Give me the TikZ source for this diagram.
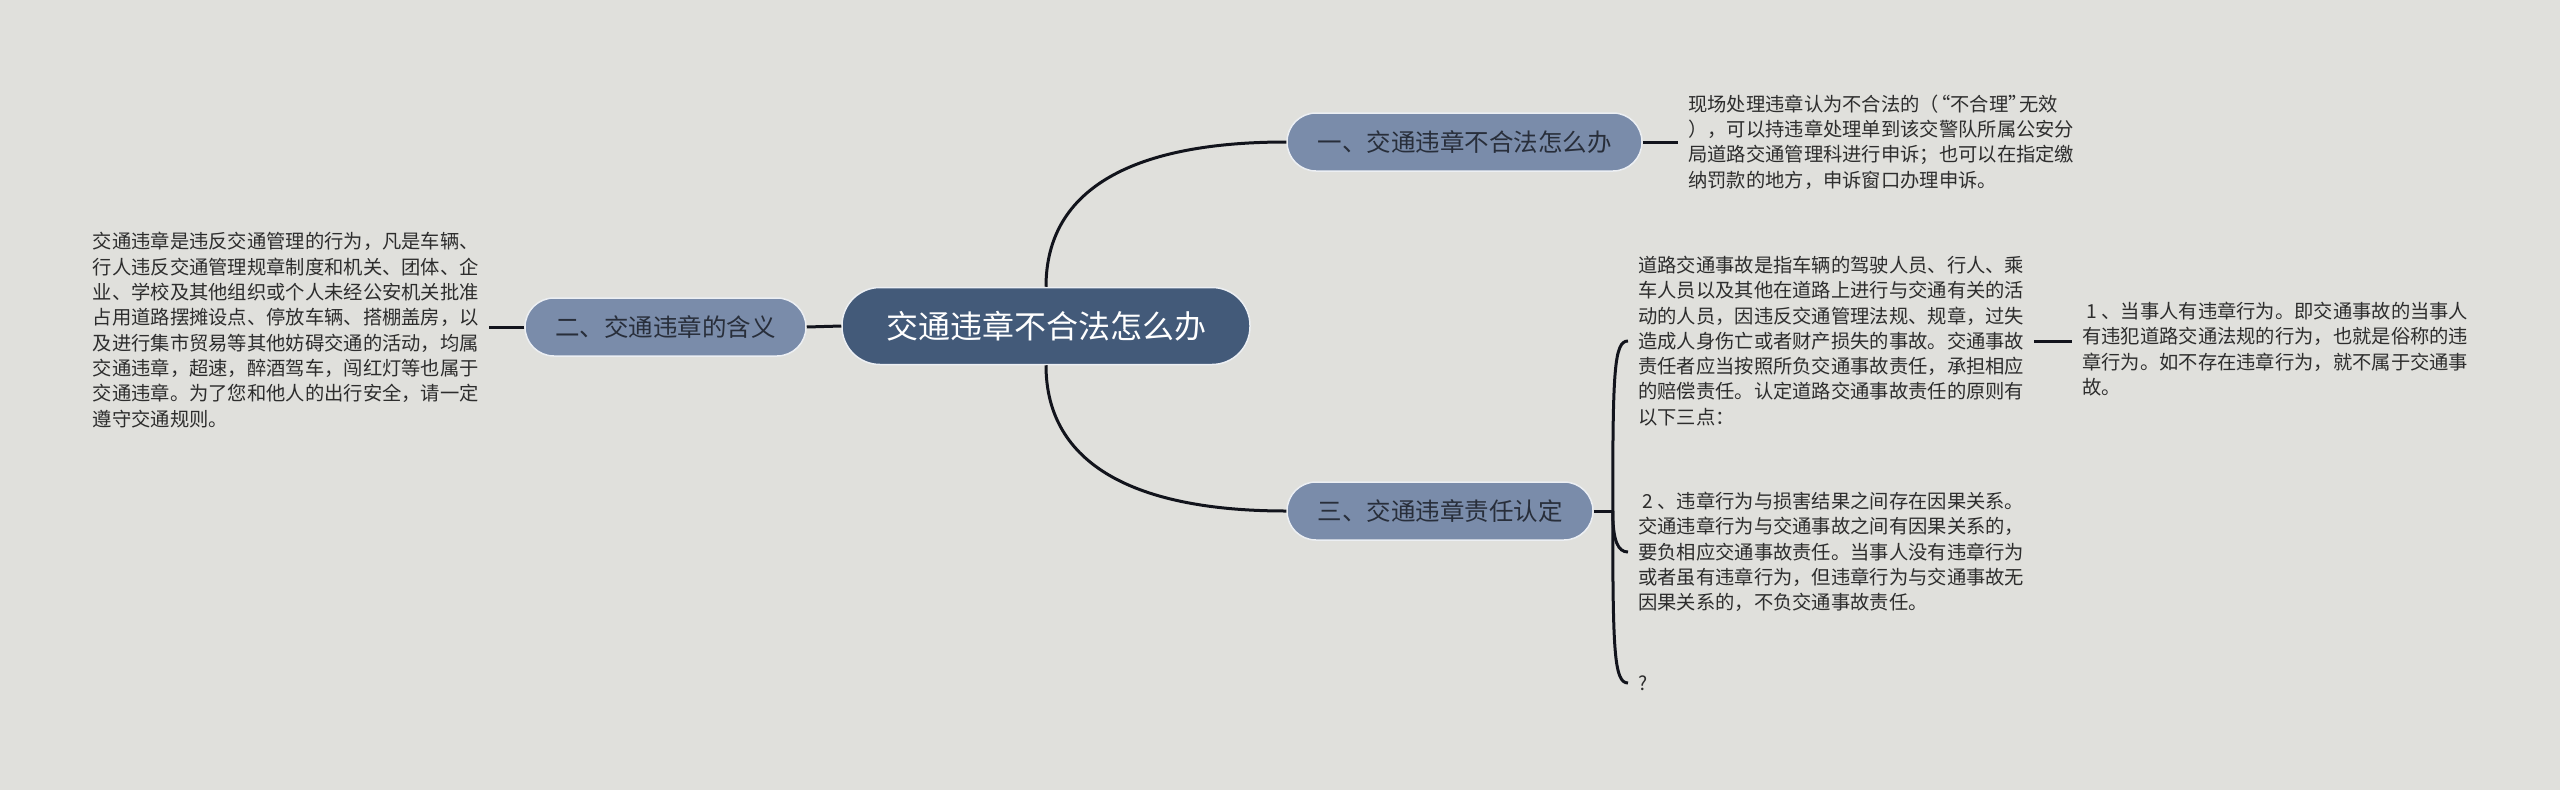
\documentclass[tikz,border=0pt]{standalone}
\usepackage{fontspec}
\newfontfamily\cjk{Noto Sans CJK SC}
\usetikzlibrary{calc}
\definecolor{bg}{RGB}{224,224,220}
\definecolor{rootfill}{RGB}{67,90,121}
\definecolor{branchfill}{RGB}{122,140,170}
\definecolor{edgeline}{RGB}{236,239,243}
\definecolor{linkcol}{RGB}{18,20,28}
\definecolor{txt}{RGB}{45,45,45}
\definecolor{btxt}{RGB}{40,46,58}
\tikzset{
  rootbox/.style={rectangle, rounded corners=38pt, fill=rootfill, draw=edgeline, line width=1.5pt,
    minimum width=408pt, minimum height=77pt, inner sep=0pt, text=white,
    font=\cjk\fontsize{32pt}{38pt}\selectfont},
  branchbox/.style={rectangle, rounded corners=29pt, fill=branchfill, draw=edgeline, line width=1.5pt,
    minimum height=58pt, inner sep=0pt, text=btxt,
    font=\cjk\fontsize{24.5pt}{30pt}\selectfont},
  leaftext/.style={align=left, inner xsep=10pt, inner ysep=0pt, text=txt,
    font=\cjk\fontsize{19.3pt}{25.3pt}\selectfont},
  link/.style={draw=linkcol, line width=3pt},
}
\begin{document}
\begin{tikzpicture}[x=1pt,y=-1pt]
\fill[bg] (0,0) rectangle (2560,790);
\useasboundingbox (0,0) rectangle (2560,790);

\node[rootbox] (root) at (1046,326) {交通违章不合法怎么办};
\node[branchbox, minimum width=355pt] (b1) at (1464.5,142) {一、交通违章不合法怎么办};
\node[branchbox, minimum width=281pt] (b2) at (665.5,327) {二、交通违章的含义};
\node[branchbox, minimum width=306pt] (b3) at (1440,511) {三、交通违章责任认定};

\node[leaftext, anchor=west] (tTR) at (1678,142) {现场处理违章认为不合法的（\kern-8pt“不合理”\kern-8pt无效\\），可以持违章处理单到该交警队所属公安分\\局道路交通管理科进行申诉；也可以在指定缴\\纳罚款的地方，申诉窗口办理申诉。};

\node[leaftext, anchor=east] (tL) at (489,330) {交通违章是违反交通管理的行为，凡是车辆、\\行人违反交通管理规章制度和机关、团体、企\\业、学校及其他组织或个人未经公安机关批准\\占用道路摆摊设点、停放车辆、搭棚盖房，以\\及进行集市贸易等其他妨碍交通的活动，均属\\交通违章，超速，醉酒驾车，闯红灯等也属于\\交通违章。为了您和他人的出行安全，请一定\\遵守交通规则。};

\node[leaftext, anchor=west] (tA) at (1628,341) {道路交通事故是指车辆的驾驶人员、行人、乘\\车人员以及其他在道路上进行与交通有关的活\\动的人员，因违反交通管理法规、规章，过失\\造成人身伤亡或者财产损失的事故。交通事故\\责任者应当按照所负交通事故责任，承担相应\\的赔偿责任。认定道路交通事故责任的原则有\\以下三点：};

\node[leaftext, anchor=west] (tFR) at (2072,349) {\ 1 、当事人有违章行为。即交通事故的当事人\\有违犯道路交通法规的行为，也就是俗称的违\\章行为。如不存在违章行为，就不属于交通事\\故。};

\node[leaftext, anchor=west] (tB) at (1628,552) {\ 2 、违章行为与损害结果之间存在因果关系。\\交通违章行为与交通事故之间有因果关系的，\\要负相应交通事故责任。当事人没有违章行为\\或者虽有违章行为，但违章行为与交通事故无\\因果关系的，不负交通事故责任。};

\node[leaftext, anchor=west] (q) at (1628,683) {?};

% connectors
\draw[link] (root.north) .. controls +(0,-100) and +(-150,0) .. (b1.west);
\draw[link] (root.south) .. controls +(0,100) and +(-150,0) .. (b3.west);
\draw[link] (root.west) -- (b2.east);
\draw[link] (b2.west) -- (b2.west -| tL.east);
\draw[link] (b1.east) -- (tTR.west);
\draw[link] (tA.east) -- (tA.east -| tFR.west);

\coordinate (fork) at ($(b3.east)+(19,0)$);
\draw[link] (b3.east) -- (fork);
\draw[link] (fork) .. controls +(0,-140) and +(-14,0) .. (tA.west);
\draw[link] (fork) .. controls +(0,30) and +(-10,0) .. (tB.west);
\draw[link] (fork) .. controls +(0,140) and +(-14,0) .. (q.west);
\end{tikzpicture}
\end{document}
